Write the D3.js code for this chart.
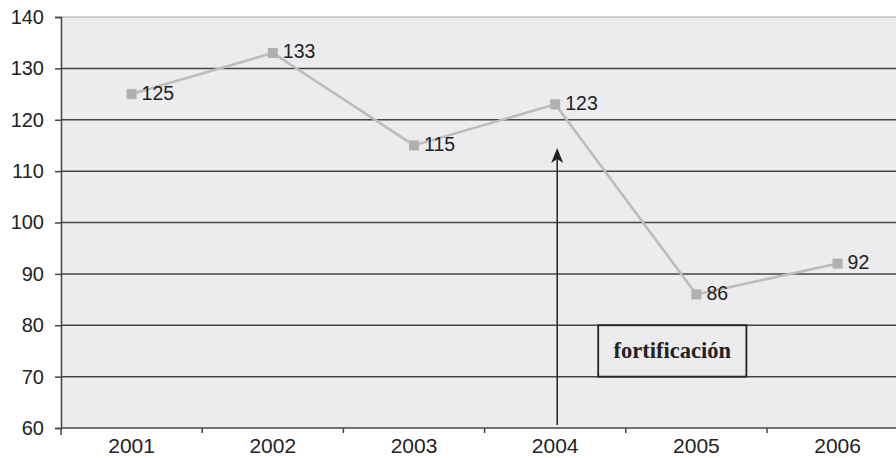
<!DOCTYPE html>
<html>
<head>
<meta charset="utf-8">
<script src="https://cdn.jsdelivr.net/npm/d3@7"></script>
<style>
  html, body { margin: 0; padding: 0; background: #ffffff; }
  svg { display: block; }
</style>
</head>
<body>
<svg id="chart" width="896" height="458"></svg>
<script>
// Yearly values
const years = ["2001", "2002", "2003", "2004", "2005", "2006"];
const values = [125, 133, 115, 123, 86, 92];
const yTicks = [60, 70, 80, 90, 100, 110, 120, 130, 140];
const annotationYear = "2004";
const annotationLabel = "fortificación";

const svg = d3.select("#chart");
const W = 896, H = 458;
const margin = { left: 61, top: 17 };
const plotBottom = 428;
const bandStep = 141.2;
const sans = "Liberation Sans, Arial, sans-serif";

const x = d3.scaleBand()
  .domain(years)
  .range([margin.left, margin.left + bandStep * years.length])
  .paddingInner(0).paddingOuter(0);

const y = d3.scaleLinear()
  .domain([60, 140])
  .range([plotBottom, margin.top]);

// Plot background
svg.append("rect")
  .attr("x", margin.left).attr("y", margin.top)
  .attr("width", W - margin.left).attr("height", plotBottom - margin.top)
  .attr("fill", "#ececee");

// Horizontal gridlines
svg.append("g")
  .selectAll("line")
  .data(yTicks.filter(d => d > 60))
  .join("line")
  .attr("x1", margin.left).attr("x2", W)
  .attr("y1", d => y(d)).attr("y2", d => y(d))
  .attr("stroke", d => d === 140 ? "#a8a8a8" : "#444")
  .attr("stroke-width", d => d === 140 ? 1 : 1.5);

// Y axis
const yAxis = svg.append("g")
  .attr("transform", `translate(${margin.left},0)`)
  .call(d3.axisLeft(y).tickValues(yTicks).tickSize(6).tickPadding(11));
yAxis.attr("font-family", sans).attr("font-size", 20);
yAxis.select(".domain").attr("stroke", "#444").attr("stroke-width", 1.5);
yAxis.selectAll(".tick line").attr("stroke", "#444").attr("stroke-width", 1.5);
yAxis.selectAll("text").attr("fill", "#222");

// X axis: ticks at band boundaries, labels at band centres
const xAxisG = svg.append("g").attr("transform", `translate(0,${plotBottom})`);
xAxisG.append("line")
  .attr("x1", margin.left).attr("x2", W)
  .attr("y1", 0).attr("y2", 0)
  .attr("stroke", "#444").attr("stroke-width", 1.5);
xAxisG.selectAll("line.sep")
  .data(years)
  .join("line")
  .attr("class", "sep")
  .attr("x1", d => x(d)).attr("x2", d => x(d))
  .attr("y1", 0).attr("y2", d => d === years[0] ? 7 : 5)
  .attr("stroke", "#444").attr("stroke-width", 1.5);
xAxisG.selectAll("text")
  .data(years)
  .join("text")
  .attr("x", d => x(d) + x.bandwidth() / 2)
  .attr("y", 25)
  .attr("text-anchor", "middle")
  .attr("font-family", sans)
  .attr("font-size", 21).attr("fill", "#222")
  .text(d => d);

const cx = d => x(d) + x.bandwidth() / 2;

// Annotation arrow
const ax = cx(annotationYear) + 2;
const tipY = y(114.5);
svg.append("line")
  .attr("x1", ax).attr("x2", ax)
  .attr("y1", plotBottom - 3).attr("y2", tipY + 6)
  .attr("stroke", "#222").attr("stroke-width", 1.5);
svg.append("path")
  .attr("d", `M${ax},${tipY} L${ax - 6},${tipY + 15} L${ax},${tipY + 11} L${ax + 6},${tipY + 15} Z`)
  .attr("fill", "#222");

// Annotation box
const boxX0 = cx(annotationYear) + 43;
const boxX1 = cx("2005") + 50;
svg.append("rect")
  .attr("x", boxX0).attr("y", y(80))
  .attr("width", boxX1 - boxX0).attr("height", y(70) - y(80))
  .attr("fill", "#ececee")
  .attr("stroke", "#222").attr("stroke-width", 1.8);
svg.append("text")
  .attr("x", (boxX0 + boxX1) / 2)
  .attr("y", (y(80) + y(70)) / 2 + 7)
  .attr("text-anchor", "middle")
  .attr("font-family", "Liberation Serif, Times New Roman, serif")
  .attr("font-weight", "bold")
  .attr("font-size", 22.5).attr("fill", "#222")
  .text(annotationLabel);

// Series line
const data = years.map((yr, i) => ({ yr, v: values[i] }));
svg.append("path")
  .datum(data)
  .attr("fill", "none")
  .attr("stroke", "#bcbcbc")
  .attr("stroke-width", 2.6)
  .attr("d", d3.line().x(d => cx(d.yr)).y(d => y(d.v)));

// Markers
svg.append("g")
  .selectAll("rect")
  .data(data)
  .join("rect")
  .attr("x", d => cx(d.yr) - 5).attr("y", d => y(d.v) - 5)
  .attr("width", 10).attr("height", 10)
  .attr("fill", "#b0b0b0");

// Value labels
svg.append("g")
  .selectAll("text")
  .data(data)
  .join("text")
  .attr("x", d => cx(d.yr) + 10)
  .attr("y", d => y(d.v) + 5.5)
  .attr("font-family", sans)
  .attr("font-size", 19.5).attr("fill", "#222")
  .text(d => d.v);
</script>
</body>
</html>
